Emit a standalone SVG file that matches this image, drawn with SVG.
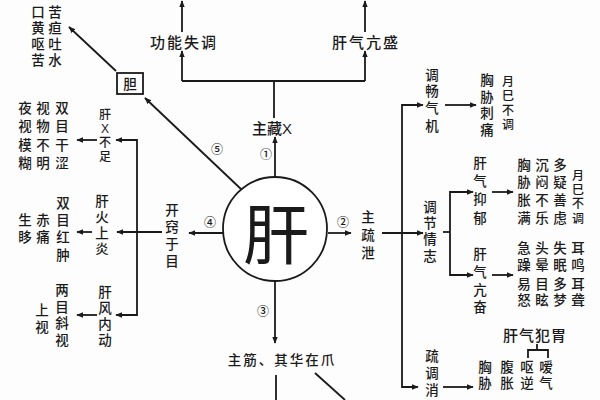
<svg xmlns="http://www.w3.org/2000/svg" width="600" height="400" viewBox="0 0 600 400">
<defs>
<marker id="ah" viewBox="0 0 10 10" refX="9" refY="5" markerWidth="7" markerHeight="7" markerUnits="userSpaceOnUse" orient="auto">
<path d="M0,1 L10,5 L0,9 Z" fill="#1a1a1a"/>
</marker>
<style>
.t{font-family:"Liberation Sans","Noto Sans CJK SC",sans-serif;font-size:13.5px;fill:#1a1a1a;text-anchor:middle;dominant-baseline:central;font-weight:500}
.s{font-size:12px}
.h{font-size:15px}
.n{font-size:12px}
.big{font-size:66px;font-weight:400}
.l{fill:none;stroke:#1a1a1a;stroke-width:1.8}
.a{fill:none;stroke:#1a1a1a;stroke-width:1.8;marker-end:url(#ah)}
</style>
</defs>
<rect x="0" y="0" width="600" height="400" fill="#fdfdfd"/>

<g id="connectors">
<line class="a" x1="275" y1="177" x2="275" y2="137"/>
<polyline class="l" points="274,118 274,81"/>
<polyline class="l" points="182,81 365,81"/>
<line class="a" x1="182" y1="81" x2="182" y2="51"/>
<line class="a" x1="365" y1="81" x2="365" y2="51"/>
<line class="a" x1="182" y1="32" x2="182" y2="1"/>
<line class="a" x1="365" y1="32" x2="365" y2="1"/>
<line class="a" x1="242" y1="190" x2="145" y2="98"/>
<line class="a" x1="116" y1="71" x2="69" y2="27"/>
<line class="a" x1="223" y1="233" x2="189" y2="233"/>
<line class="a" x1="162" y1="232" x2="117" y2="232"/>
<polyline class="l" points="117,140 137,140 137,315 117,315"/>
<line class="a" x1="137" y1="140" x2="116" y2="140"/>
<line class="a" x1="137" y1="315" x2="116" y2="315"/>
<line class="a" x1="97" y1="140" x2="77" y2="140"/>
<line class="a" x1="92" y1="232" x2="77" y2="232"/>
<line class="a" x1="97" y1="315" x2="77" y2="315"/>
<line class="a" x1="275" y1="282" x2="275" y2="343"/>
<line class="l" x1="276" y1="375" x2="276" y2="400"/>
<line class="l" x1="315" y1="373" x2="345" y2="400"/>
<line class="a" x1="328" y1="233" x2="351" y2="233"/>
<line class="a" x1="382" y1="233" x2="423" y2="233"/>
<polyline class="l" points="420,105 402,105 402,387 416,387"/>
<line class="a" x1="402" y1="105" x2="423" y2="105"/>
<line class="a" x1="402" y1="387" x2="418" y2="387"/>
<line class="a" x1="445" y1="105" x2="476" y2="105"/>
<polyline class="l" points="443,232 450,232"/>
<polyline class="l" points="470,192 450,192 450,275 470,275"/>
<line class="a" x1="450" y1="192" x2="473" y2="192"/>
<line class="a" x1="450" y1="275" x2="473" y2="275"/>
<line class="a" x1="492" y1="192" x2="513" y2="192"/>
<line class="a" x1="492" y1="275" x2="513" y2="275"/>
<line class="a" x1="443" y1="387" x2="473" y2="387"/>
<polyline class="l" points="537,344 537,350"/>
<polyline class="l" points="528,358 528,350 548,350 548,358"/>
</g>

<g id="liver">
<circle cx="275" cy="229" r="52" fill="#fff" stroke="#1a1a1a" stroke-width="1.8"/>
<text class="t big" x="276" y="236">肝</text>
</g>

<g id="labels-num">
<text class="t n" x="266" y="155">①</text>
<text class="t n" x="343" y="223">②</text>
<text class="t n" x="263" y="312">③</text>
<text class="t n" x="210" y="223">④</text>
<text class="t n" x="217" y="150">⑤</text>
</g>

<g id="n-zangxue"><text class="t h" x="272" y="128">主藏X</text></g>
<g id="n-gongneng"><text class="t h" x="184" y="42" letter-spacing="2">功能失调</text></g>
<g id="n-ganqi-kang"><text class="t h" x="366" y="42" letter-spacing="2">肝气亢盛</text></g>

<g id="n-dan">
<rect x="117" y="73" width="26" height="21" fill="#fff" stroke="#1a1a1a" stroke-width="1.8"/>
<text class="t" x="130" y="84">胆</text>
</g>
<g id="n-kouku">
<text class="t"><tspan x="38" y="12">口</tspan><tspan x="38" y="28">黄</tspan><tspan x="38" y="44">呕</tspan><tspan x="38" y="60">苦</tspan></text>
<text class="t"><tspan x="55" y="12">苦</tspan><tspan x="55" y="28">疸</tspan><tspan x="55" y="44">吐</tspan><tspan x="55" y="60">水</tspan></text>
</g>

<g id="n-ganxue-buzu">
<text class="t s"><tspan x="105" y="115">肝</tspan><tspan x="105" y="129">X</tspan><tspan x="105" y="143">不</tspan><tspan x="105" y="157">足</tspan></text>
</g>
<g id="n-shuangmu-gan">
<text class="t"><tspan x="25" y="108">夜</tspan><tspan x="25" y="126">视</tspan><tspan x="25" y="145">模</tspan><tspan x="25" y="163">糊</tspan></text>
<text class="t"><tspan x="43" y="108">视</tspan><tspan x="43" y="126">物</tspan><tspan x="43" y="145">不</tspan><tspan x="43" y="163">明</tspan></text>
<text class="t"><tspan x="62" y="108">双</tspan><tspan x="62" y="126">目</tspan><tspan x="62" y="145">干</tspan><tspan x="62" y="163">涩</tspan></text>
</g>

<g id="n-kaiqiao">
<text class="t"><tspan x="172" y="210">开</tspan><tspan x="172" y="227">窍</tspan><tspan x="172" y="244">于</tspan><tspan x="172" y="261">目</tspan></text>
</g>
<g id="n-ganhuo">
<text class="t"><tspan x="102" y="201">肝</tspan><tspan x="102" y="217">火</tspan><tspan x="102" y="233">上</tspan><tspan x="102" y="249">炎</tspan></text>
</g>
<g id="n-shuangmu-hong">
<text class="t"><tspan x="63" y="203">双</tspan><tspan x="63" y="220">目</tspan><tspan x="63" y="237">红</tspan><tspan x="63" y="255">肿</tspan></text>
<text class="t"><tspan x="43" y="220">赤</tspan><tspan x="43" y="237">痛</tspan></text>
<text class="t"><tspan x="25" y="220">生</tspan><tspan x="25" y="237">眵</tspan></text>
</g>

<g id="n-ganfeng">
<text class="t"><tspan x="105" y="292">肝</tspan><tspan x="105" y="308">风</tspan><tspan x="105" y="324">内</tspan><tspan x="105" y="340">动</tspan></text>
</g>
<g id="n-liangmu">
<text class="t"><tspan x="62" y="290">两</tspan><tspan x="62" y="307">目</tspan><tspan x="62" y="323">斜</tspan><tspan x="62" y="340">视</tspan></text>
<text class="t"><tspan x="42" y="310">上</tspan><tspan x="42" y="327">视</tspan></text>
</g>

<g id="n-zhujin"><text class="t" x="282" y="360" font-size="16" letter-spacing="2">主筋、其华在爪</text></g>

<g id="n-shuxie">
<text class="t"><tspan x="368" y="217">主</tspan><tspan x="368" y="235">疏</tspan><tspan x="368" y="253">泄</tspan></text>
</g>
<g id="n-tiaochang">
<text class="t"><tspan x="432" y="75">调</tspan><tspan x="432" y="91">畅</tspan><tspan x="432" y="108">气</tspan><tspan x="432" y="126">机</tspan></text>
</g>
<g id="n-xiongxie-ci">
<text class="t"><tspan x="487" y="80">胸</tspan><tspan x="487" y="97">胁</tspan><tspan x="487" y="113">刺</tspan><tspan x="487" y="130">痛</tspan></text>
<text class="t s"><tspan x="508" y="82">月</tspan><tspan x="508" y="96">巳</tspan><tspan x="508" y="111">不</tspan><tspan x="508" y="125">调</tspan></text>
</g>

<g id="n-tiaojie">
<text class="t"><tspan x="430" y="207">调</tspan><tspan x="430" y="223">节</tspan><tspan x="430" y="239">情</tspan><tspan x="430" y="256">志</tspan></text>
</g>
<g id="n-yiyu">
<text class="t"><tspan x="480" y="163">肝</tspan><tspan x="480" y="181">气</tspan><tspan x="480" y="199">抑</tspan><tspan x="480" y="218">郁</tspan></text>
</g>
<g id="n-yiyu-sym">
<text class="t"><tspan x="524" y="165">胸</tspan><tspan x="524" y="182">胁</tspan><tspan x="524" y="200">胀</tspan><tspan x="524" y="218">满</tspan></text>
<text class="t"><tspan x="542" y="165">沉</tspan><tspan x="542" y="182">闷</tspan><tspan x="542" y="200">不</tspan><tspan x="542" y="218">乐</tspan></text>
<text class="t"><tspan x="560" y="165">多</tspan><tspan x="560" y="182">疑</tspan><tspan x="560" y="200">善</tspan><tspan x="560" y="218">虑</tspan></text>
<text class="t s"><tspan x="578" y="176">月</tspan><tspan x="578" y="190">巳</tspan><tspan x="578" y="204">不</tspan><tspan x="578" y="219">调</tspan></text>
</g>
<g id="n-kangfen">
<text class="t"><tspan x="480" y="254">肝</tspan><tspan x="480" y="272">气</tspan><tspan x="480" y="290">亢</tspan><tspan x="480" y="307">奋</tspan></text>
</g>
<g id="n-kangfen-sym">
<text class="t"><tspan x="524" y="248">急</tspan><tspan x="524" y="265">躁</tspan><tspan x="524" y="284">易</tspan><tspan x="524" y="300">怒</tspan></text>
<text class="t"><tspan x="542" y="248">头</tspan><tspan x="542" y="265">晕</tspan><tspan x="542" y="284">目</tspan><tspan x="542" y="300">眩</tspan></text>
<text class="t"><tspan x="560" y="248">失</tspan><tspan x="560" y="265">眠</tspan><tspan x="560" y="284">多</tspan><tspan x="560" y="300">梦</tspan></text>
<text class="t"><tspan x="578" y="248">耳</tspan><tspan x="578" y="265">鸣</tspan><tspan x="578" y="284">耳</tspan><tspan x="578" y="300">聋</tspan></text>
</g>

<g id="n-fanwei"><text class="t h" x="535" y="335" letter-spacing="1">肝气犯胃</text></g>
<g id="n-fanwei-sym">
<text class="t"><tspan x="485" y="367">胸</tspan><tspan x="485" y="383">胁</tspan></text>
<text class="t"><tspan x="507" y="367">腹</tspan><tspan x="507" y="383">胀</tspan></text>
<text class="t"><tspan x="527" y="367">呕</tspan><tspan x="527" y="383">逆</tspan></text>
<text class="t"><tspan x="546" y="367">嗳</tspan><tspan x="546" y="383">气</tspan></text>
</g>
<g id="n-shutiao">
<text class="t"><tspan x="432" y="356">疏</tspan><tspan x="432" y="373">调</tspan><tspan x="432" y="390">消</tspan></text>
</g>
</svg>
